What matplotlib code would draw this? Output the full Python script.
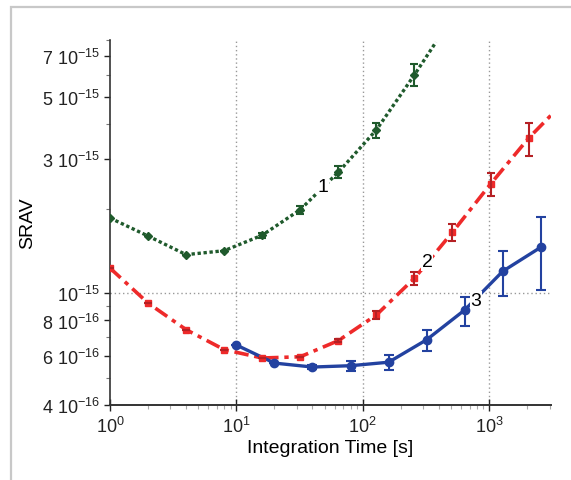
import numpy as np
import matplotlib.pyplot as plt
from matplotlib.ticker import LogLocator, FixedLocator, FixedFormatter, NullFormatter
from matplotlib.patches import Rectangle

plt.rcParams["font.family"] = ["Liberation Sans", "DejaVu Sans"]
plt.rcParams["mathtext.fontset"] = "custom"
plt.rcParams["mathtext.rm"] = "Liberation Sans"
plt.rcParams["mathtext.it"] = "Liberation Sans"

# ── données (valeurs en unités de 1e-15) ─────────────────────────────────
t1 = [1, 2, 4, 8, 16, 32, 64, 128, 256, 379]
s1 = [1.855, 1.60, 1.373, 1.418, 1.61, 1.986, 2.70, 3.82, 6.0, 7.85]
e1 = [0, 0, 0, 0, 0.03, 0.066, 0.135, 0.24, 0.54, 0]

t2 = [1, 2, 4, 8, 16, 32, 64, 128, 256, 512, 1024, 2048, 3070]
s2 = [1.23, 0.923, 0.742, 0.630, 0.588, 0.594, 0.678, 0.837, 1.131, 1.65, 2.45, 3.57, 4.30]
e2_lo = [0, 0, 0, 0, 0, 0, 0.01, 0.028, 0.057, 0.11, 0.23, 0.49, 0]
e2_hi = [0, 0, 0, 0, 0, 0, 0.01, 0.028, 0.057, 0.11, 0.23, 0.47, 0]

t3 = [10, 20, 40, 80, 160, 320, 640, 1280, 2560]
s3 = [0.654, 0.564, 0.546, 0.552, 0.568, 0.683, 0.872, 1.198, 1.459]
e3_lo = [0, 0, 0.009, 0.023, 0.034, 0.062, 0.109, 0.222, 0.43]
e3_hi = [0, 0, 0.009, 0.023, 0.034, 0.058, 0.100, 0.220, 0.41]

Y_TICKS  = [4e-16, 6e-16, 8e-16, 1e-15, 3e-15, 5e-15, 7e-15]
Y_LABELS = [r"4 10$^{-16}$", r"6 10$^{-16}$", r"8 10$^{-16}$", r"10$^{-15}$",
            r"3 10$^{-15}$", r"5 10$^{-15}$", r"7 10$^{-15}$"]

GREEN = "#1f5a2c"
RED = "#ee2a2a"
RED_DARK = "#b52024"
BLUE = "#2342a0"

S = 1e-15
fig = plt.figure(figsize=(5.71, 4.81), dpi=100)
ax = fig.add_axes([0.1926, 0.156, 0.772, 0.761])

# cadre gris autour de l'image
fig.patches.append(Rectangle((11 / 571, -0.01), 1.0, 1.0 - 8 / 481 + 0.01,
                             transform=fig.transFigure, fill=False,
                             edgecolor="#c8c8c8", linewidth=1.6, zorder=0))

ax.set_xscale("log")
ax.set_yscale("log")
ax.set_xlim(1, 3070)
ax.set_ylim(4e-16, 8.06e-15)

# grille pointillée
for xv in [10, 100, 1000]:
    ax.axvline(xv, color="#999999", linestyle=(0, (1, 2)), linewidth=1.0, zorder=1)
ax.axhline(1e-15, color="#999999", linestyle=(0, (1, 2)), linewidth=1.0, zorder=1)

# série 1 (vert, pointillé)
ax.plot(t1, np.array(s1) * S, color=GREEN, linestyle=(0, (1, 0.8)), linewidth=2.4,
        zorder=3)
ax.plot(t1[:-1], np.array(s1[:-1]) * S, linestyle="none", marker="D", markersize=4,
        color=GREEN, zorder=4)
ax.errorbar(t1[:-1], np.array(s1[:-1]) * S, yerr=np.array(e1[:-1]) * S, fmt="none",
            ecolor=GREEN, elinewidth=1.5, capsize=3, capthick=1.5, zorder=4)

# série 2 (rouge, tiret-point)
ax.plot(t2, np.array(s2) * S, color=RED, dashes=(4, 1.6, 1.2, 1.6), linewidth=2.6,
        zorder=3)
ax.plot(t2[:-1], np.array(s2[:-1]) * S, linestyle="none", marker="s", markersize=4.5,
        color=RED, zorder=4)
ax.errorbar(t2[:-1], np.array(s2[:-1]) * S,
            yerr=[np.array(e2_lo[:-1]) * S, np.array(e2_hi[:-1]) * S], fmt="none",
            ecolor=RED_DARK, elinewidth=1.5, capsize=3, capthick=1.5, zorder=4)

# série 3 (bleu, continu)
ax.errorbar(t3, np.array(s3) * S, yerr=[np.array(e3_lo) * S, np.array(e3_hi) * S],
            color=BLUE, linewidth=2.4, marker="o", markersize=6,
            ecolor=BLUE, elinewidth=1.5, capsize=3.5, capthick=1.5, zorder=3)

# étiquettes des courbes
txt = dict(fontsize=14, ha="center", va="center", zorder=6,
           bbox=dict(facecolor="white", edgecolor="none", pad=0.6))
ax.text(48, 2.41e-15, "1", **txt)
ax.text(322, 1.30e-15, "2", **txt)
ax.text(787, 9.46e-16, "3", **txt)

# axes
ax.yaxis.set_major_locator(FixedLocator(Y_TICKS))
ax.yaxis.set_major_formatter(FixedFormatter(Y_LABELS))
ax.yaxis.set_minor_locator(LogLocator(base=10, subs=np.arange(1, 10)))
ax.yaxis.set_minor_formatter(NullFormatter())
ax.xaxis.set_minor_locator(LogLocator(base=10, subs=np.arange(2, 10)))
ax.xaxis.set_minor_formatter(NullFormatter())

ax.tick_params(axis="both", which="major", labelsize=13, colors="#222222")
ax.tick_params(axis="y", which="major", direction="out", length=4, width=1.0, pad=3)
ax.tick_params(axis="y", which="minor", direction="out", length=3, width=0.8,
               colors="#777777")
ax.tick_params(axis="x", which="major", direction="inout", length=8, width=1.0, pad=4)
ax.tick_params(axis="x", which="minor", direction="out", length=3, width=0.8,
               colors="#aaaaaa")

ax.spines[["top", "right"]].set_visible(False)
ax.spines["left"].set_linestyle((0, (1.2, 1)))
ax.spines["left"].set_color("#333333")
ax.spines["left"].set_linewidth(1.2)
ax.spines["bottom"].set_color("#333333")
ax.spines["bottom"].set_linewidth(1.4)

ax.set_xlabel("Integration Time [s]", fontsize=14, labelpad=2)
ax.set_ylabel("SRAV", fontsize=14, labelpad=4)

fig.savefig("out.png", dpi=100)
